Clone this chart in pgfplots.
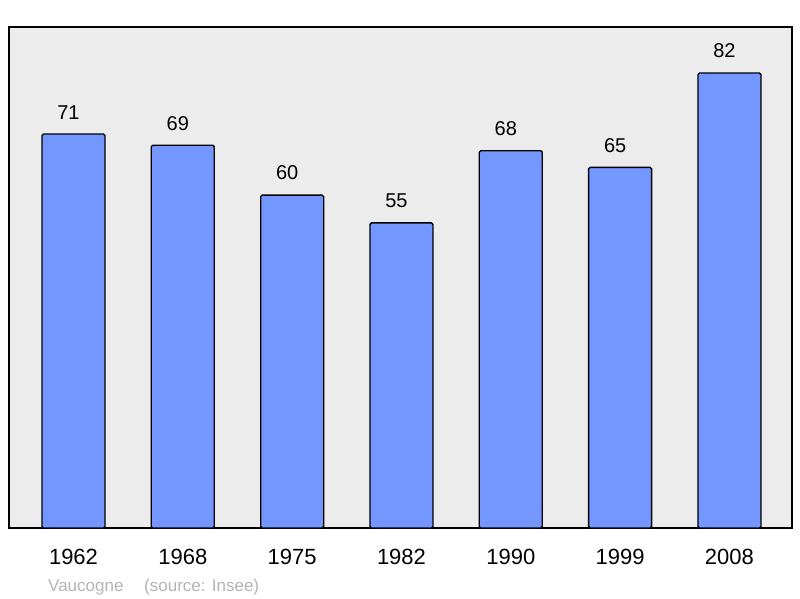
\documentclass[border=0pt]{standalone}
\usepackage{fontspec}
\setmainfont{Liberation Sans}
\usepackage{pgfplots}
\pgfplotsset{compat=1.18}
\definecolor{barblue}{HTML}{7396FF}
\definecolor{bggray}{HTML}{ECECEC}
\definecolor{srcgray}{HTML}{B4B4B4}
\begin{document}
\begin{tikzpicture}[x=1pt,y=1pt]
  \path[use as bounding box] (0,0) rectangle (800,598);
  \begin{axis}[
    at={(9pt,70pt)}, anchor=south west,
    scale only axis, width=783pt, height=501pt,
    xmin=-0.59, xmax=6.572, ymin=0, ymax=90.3,
    ybar, bar width=63pt, bar shift=0pt,
    axis background/.style={fill=bggray},
    axis line style={line width=2pt},
    ytick=\empty,
    xtick={0,...,6},
    xticklabels={1962,1968,1975,1982,1990,1999,2008},
    major tick length=0pt,
    xticklabel style={font=\fontsize{22}{26}\selectfont, yshift=-18pt},
    /pgf/number format/assume math mode=true,
    nodes near coords,
    nodes near coords style={font=\fontsize{20}{24}\selectfont, yshift=11pt, xshift=-5pt},
  ]
    \addplot[fill=barblue, draw=black, line width=1.3pt, rounded corners=1.5pt]
      coordinates {(0,71) (1,69) (2,60) (3,55) (4,68) (5,65) (6,82)};
  \end{axis}
  \node[anchor=base west, text=srcgray, font=\fontsize{17}{20}\selectfont, inner sep=0pt] at (48,7) {Vaucogne};
  \node[anchor=base west, text=srcgray, font=\fontsize{17}{20}\selectfont, inner sep=0pt] at (144,7) {(source: Insee)};
\end{tikzpicture}
\end{document}
